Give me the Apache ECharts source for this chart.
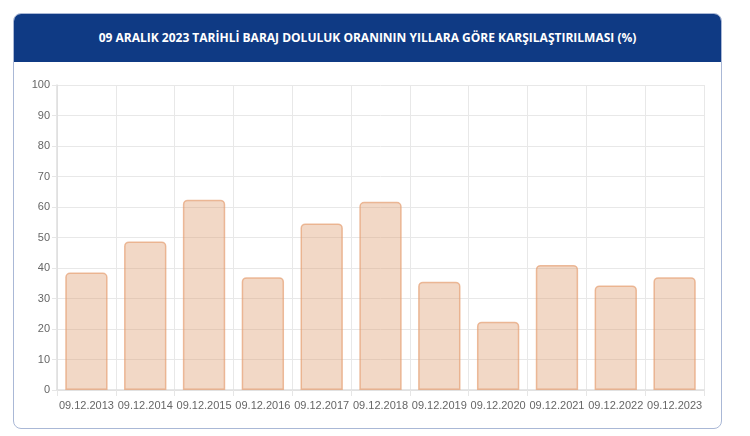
<!DOCTYPE html>
<html>
<head>
<meta charset="utf-8">
<script src="https://cdn.jsdelivr.net/npm/echarts@6/dist/echarts.min.js"></script>
<style>
  html, body { margin: 0; padding: 0; background: #fff; }
  #card {
    position: absolute; left: 13px; top: 13px; width: 707px; height: 414px;
    border: 1px solid #aab8d6; border-radius: 8px; overflow: hidden;
  }
  #head {
    height: 48px; background: #0f3a84; color: #fff;
    font-family: "Open Sans", "Noto Sans", sans-serif; font-weight: 700; font-size: 12px;
    line-height: 48px; text-align: center;
  }
  #main { position: absolute; left: 0; top: 0; width: 750px; height: 436px; }
</style>
</head>
<body>
<div id="card"><div id="head">09 ARALIK 2023 TARİHLİ BARAJ DOLULUK ORANININ YILLARA GÖRE KARŞILAŞTIRILMASI (%)</div></div>
<div id="main"></div>
<script>
  var categories = ["09.12.2013", "09.12.2014", "09.12.2015", "09.12.2016", "09.12.2017", "09.12.2018",
    "09.12.2019", "09.12.2020", "09.12.2021", "09.12.2022", "09.12.2023"];
  var doluluk = [38.5, 48.7, 62.4, 37.0, 54.6, 61.7, 35.5, 22.4, 41.0, 34.3, 37.0];

  var chartDom = document.getElementById("main");
  var myChart = echarts.init(chartDom);
  var option;

  option = {
    animation: false,
    grid: { left: 57, right: 46, top: 85, bottom: 46 },
    xAxis: {
      type: "category",
      data: categories,
      axisLine: { lineStyle: { color: "#dedede", width: 1.5 } },
      axisTick: { show: true, interval: 0, length: 6, lineStyle: { color: "#e6e6e6" } },
      splitLine: { show: true, interval: 0, lineStyle: { color: "#e8e8e8" } },
      axisLabel: { interval: 0, color: "#666", fontSize: 11, fontFamily: "Liberation Sans, Arial", margin: 10 }
    },
    yAxis: {
      type: "value",
      min: 0,
      max: 100,
      interval: 10,
      axisLine: { show: true, lineStyle: { color: "#dedede", width: 1.5 } },
      axisTick: { show: true, length: 5, lineStyle: { color: "#e6e6e6" } },
      splitLine: { show: true, lineStyle: { color: "#e8e8e8" } },
      axisLabel: { color: "#666", fontSize: 11, fontFamily: "Liberation Sans, Arial", margin: 7 }
    },
    series: [
      {
        type: "bar",
        data: doluluk,
        barCategoryGap: "28%",
        itemStyle: {
          color: "rgba(223,158,113,0.4)",
          borderColor: "rgba(230,160,115,0.7)",
          borderWidth: 1.5,
          borderRadius: [4, 4, 0, 0]
        }
      }
    ]
  };

  option && myChart.setOption(option);
</script>
</body>
</html>
